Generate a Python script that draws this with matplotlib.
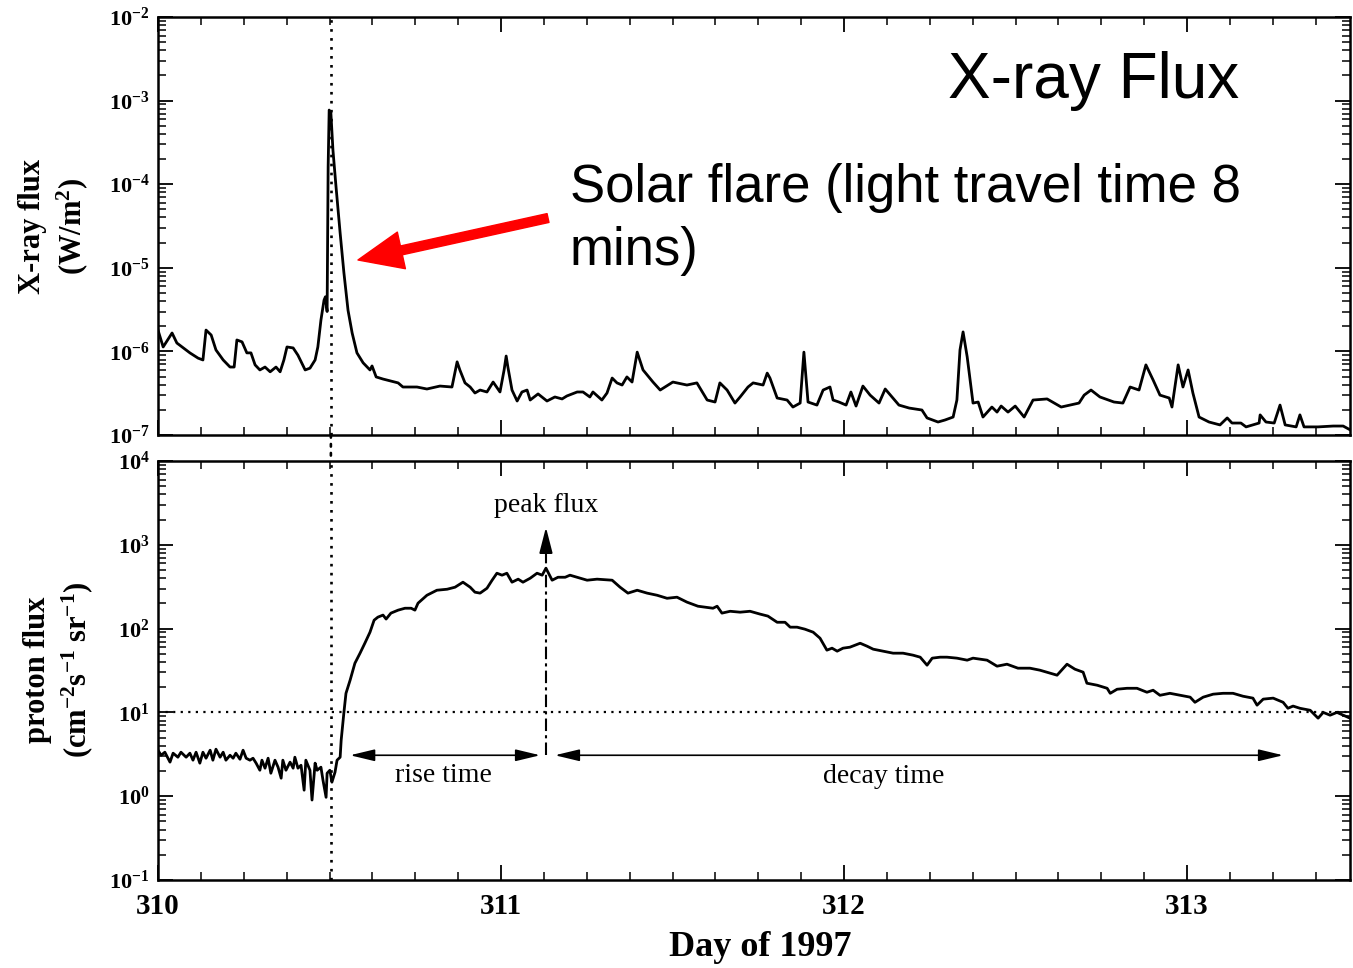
import numpy as np
import matplotlib
matplotlib.use("Agg")
import matplotlib.pyplot as plt
from matplotlib.ticker import LogLocator, MultipleLocator, NullFormatter, FuncFormatter
from matplotlib.patches import ConnectionPatch

# GOES X-ray flux (W/m^2), day of 1997
xray_day = [
    310.000, 310.015, 310.041, 310.055, 310.093, 310.117, 310.131, 310.140, 310.155, 310.169,
    310.190, 310.210, 310.222, 310.230, 310.245, 310.259, 310.271, 310.283, 310.297, 310.312,
    310.327, 310.344, 310.356, 310.367, 310.376, 310.394, 310.408, 310.429, 310.443, 310.458,
    310.466, 310.475, 310.484, 310.488, 310.493, 310.496, 310.499, 310.504, 310.510, 310.519,
    310.531, 310.542, 310.554, 310.566, 310.580, 310.598, 310.618, 310.624, 310.636, 310.656,
    310.700, 310.714, 310.755, 310.784, 310.822, 310.857, 310.872, 310.880, 310.895, 310.910,
    310.924, 310.939, 310.959, 310.977, 310.997, 311.009, 311.015, 311.020, 311.032, 311.047,
    311.061, 311.076, 311.085, 311.108, 311.134, 311.157, 311.178, 311.192, 311.222, 311.239,
    311.259, 311.268, 311.294, 311.309, 311.324, 311.338, 311.353, 311.367, 311.382, 311.397,
    311.414, 311.443, 311.464, 311.501, 311.542, 311.571, 311.601, 311.624, 311.638, 311.659,
    311.682, 311.697, 311.720, 311.735, 311.764, 311.776, 311.784, 311.805, 311.834, 311.851,
    311.872, 311.883, 311.895, 311.921, 311.939, 311.959, 311.968, 311.985, 312.006, 312.020,
    312.035, 312.055, 312.076, 312.102, 312.120, 312.140, 312.160, 312.190, 312.227, 312.242,
    312.274, 312.294, 312.318, 312.329, 312.338, 312.347, 312.359, 312.376, 312.391, 312.405,
    312.431, 312.446, 312.458, 312.478, 312.499, 312.525, 312.551, 312.592, 312.633, 312.685,
    312.700, 312.720, 312.746, 312.787, 312.813, 312.834, 312.860, 312.880, 312.901, 312.921,
    312.948, 312.956, 312.974, 312.988, 313.003, 313.017, 313.035, 313.064, 313.096, 313.117,
    313.131, 313.157, 313.172, 313.210, 313.213, 313.230, 313.254, 313.271, 313.286, 313.318,
    313.329, 313.341, 313.382, 313.426, 313.455, 313.481]
xray_flux = [
    1.8e-6, 1.13e-6, 1.66e-6, 1.26e-6, 9.6e-7, 8.3e-7, 7.9e-7, 1.8e-6, 1.57e-6, 1.04e-6,
    7.9e-7, 6.5e-7, 6.5e-7, 1.37e-6, 1.30e-6, 9.6e-7, 9.6e-7, 6.9e-7, 6.0e-7, 6.5e-7,
    5.7e-7, 6.5e-7, 5.7e-7, 7.9e-7, 1.13e-6, 1.1e-6, 9.0e-7, 6.0e-7, 6.3e-7, 7.9e-7,
    1.13e-6, 2.37e-6, 4.1e-6, 4.5e-6, 3.0e-6, 1.6e-4, 7.7e-4, 7.1e-4, 2.56e-4, 9.3e-5,
    2.6e-5, 8.7e-6, 3.1e-6, 1.66e-6, 9.6e-7, 7.3e-7, 6.0e-7, 6.7e-7, 4.95e-7, 4.67e-7,
    4.2e-7, 3.75e-7, 3.75e-7, 3.55e-7, 3.85e-7, 3.75e-7, 7.5e-7, 6.0e-7, 4.2e-7, 3.75e-7,
    3.18e-7, 3.45e-7, 3.27e-7, 4.3e-7, 3.27e-7, 6.0e-7, 8.8e-7, 6.5e-7, 3.45e-7, 2.55e-7,
    3.27e-7, 3.45e-7, 2.62e-7, 3.1e-7, 2.55e-7, 2.85e-7, 2.7e-7, 2.93e-7, 3.27e-7, 3.27e-7,
    2.85e-7, 3.27e-7, 2.62e-7, 3.18e-7, 4.8e-7, 4.2e-7, 3.96e-7, 4.95e-7, 4.3e-7, 9.8e-7,
    6.0e-7, 4.3e-7, 3.45e-7, 4.3e-7, 3.96e-7, 4.2e-7, 2.62e-7, 2.48e-7, 4.2e-7, 3.45e-7,
    2.41e-7, 2.85e-7, 3.75e-7, 4.2e-7, 3.96e-7, 5.5e-7, 4.8e-7, 2.77e-7, 2.62e-7, 2.16e-7,
    2.41e-7, 9.8e-7, 2.48e-7, 2.28e-7, 3.45e-7, 3.75e-7, 2.62e-7, 2.48e-7, 2.28e-7, 3.27e-7,
    2.22e-7, 3.85e-7, 3.0e-7, 2.41e-7, 3.55e-7, 2.85e-7, 2.28e-7, 2.1e-7, 1.99e-7, 1.6e-7,
    1.43e-7, 1.51e-7, 1.64e-7, 2.62e-7, 1.04e-6, 1.71e-6, 8.6e-7, 2.41e-7, 2.48e-7, 1.64e-7,
    2.16e-7, 1.88e-7, 2.22e-7, 1.88e-7, 2.22e-7, 1.64e-7, 2.62e-7, 2.7e-7, 2.16e-7, 2.41e-7,
    3.0e-7, 3.45e-7, 2.85e-7, 2.48e-7, 2.41e-7, 3.75e-7, 3.45e-7, 6.9e-7, 4.55e-7, 3.0e-7,
    2.77e-7, 2.16e-7, 6.9e-7, 3.75e-7, 6.0e-7, 3.18e-7, 1.64e-7, 1.43e-7, 1.32e-7, 1.6e-7,
    1.39e-7, 1.39e-7, 1.25e-7, 1.39e-7, 1.74e-7, 1.43e-7, 1.39e-7, 2.28e-7, 1.32e-7, 1.25e-7,
    1.74e-7, 1.25e-7, 1.25e-7, 1.28e-7, 1.28e-7, 1.12e-7]

# proton flux (cm^-2 s^-1 sr^-1)
proton_day = [
    310.000, 310.009, 310.020, 310.035, 310.044, 310.058, 310.067, 310.082, 310.093, 310.102,
    310.111, 310.122, 310.131, 310.140, 310.152, 310.160, 310.169, 310.181, 310.190, 310.198,
    310.210, 310.219, 310.227, 310.239, 310.248, 310.257, 310.268, 310.277, 310.286, 310.297,
    310.303, 310.312, 310.321, 310.329, 310.341, 310.350, 310.359, 310.364, 310.373, 310.385,
    310.394, 310.399, 310.408, 310.417, 310.426, 310.431, 310.443, 310.449, 310.458, 310.464,
    310.475, 310.481, 310.490, 310.493, 310.501, 310.507, 310.516, 310.522, 310.531, 310.534,
    310.542, 310.548, 310.560, 310.574, 310.589, 310.603, 310.618, 310.630, 310.641, 310.656,
    310.665, 310.679, 310.700, 310.720, 310.738, 310.749, 310.758, 310.784, 310.813, 310.843,
    310.866, 310.889, 310.910, 310.924, 310.939, 310.959, 310.974, 310.988, 311.003, 311.017,
    311.032, 311.050, 311.064, 311.085, 311.105, 311.120, 311.131, 311.149, 311.166, 311.187,
    311.201, 311.222, 311.251, 311.280, 311.324, 311.347, 311.370, 311.397, 311.426, 311.455,
    311.484, 311.513, 311.542, 311.574, 311.618, 311.630, 311.644, 311.668, 311.697, 311.726,
    311.755, 311.778, 311.805, 311.828, 311.843, 311.863, 311.886, 311.910, 311.930, 311.950,
    311.965, 311.980, 311.997, 312.017, 312.047, 312.067, 312.085, 312.114, 312.143, 312.172,
    312.201, 312.222, 312.242, 312.257, 312.280, 312.300, 312.329, 312.359, 312.376, 312.417,
    312.446, 312.475, 312.507, 312.542, 312.571, 312.601, 312.621, 312.650, 312.673, 312.697,
    312.708, 312.738, 312.767, 312.776, 312.796, 312.825, 312.854, 312.883, 312.901, 312.921,
    312.950, 312.980, 313.009, 313.023, 313.047, 313.076, 313.105, 313.134, 313.163, 313.192,
    313.204, 313.222, 313.251, 313.280, 313.294, 313.309, 313.329, 313.359, 313.382, 313.397,
    313.417, 313.437, 313.455, 313.475]
proton_flux = [
    3.54, 3.08, 3.35, 2.55, 3.26, 2.92, 3.35, 2.92, 3.26, 2.69,
    3.35, 2.48, 3.35, 2.84, 3.54, 2.69, 3.64, 2.92, 3.35, 2.69,
    3.08, 2.84, 3.26, 2.76, 3.54, 2.84, 2.69, 2.84, 2.48, 2.04,
    2.69, 2.16, 2.84, 1.88, 2.69, 2.22, 1.64, 2.69, 2.04, 2.55,
    2.16, 2.92, 2.16, 2.34, 1.18, 2.69, 2.04, 0.90, 2.48, 2.04,
    2.22, 1.55, 0.97, 1.88, 2.04, 1.47, 1.93, 2.69, 2.92, 4.66,
    10.0, 16.9, 24.2, 38.6, 50.9, 66.9, 90.6, 126, 137, 145,
    130, 153, 166, 175, 175, 166, 201, 250, 287, 295,
    312, 358, 312, 272, 265, 303, 378, 458, 434, 458,
    358, 389, 358, 399, 458, 434, 526, 378, 410, 410,
    434, 410, 378, 389, 378, 312, 265, 287, 265, 250,
    230, 237, 207, 185, 175, 185, 153, 161, 157, 161,
    149, 141, 119, 119, 104, 104, 98.4, 90.6, 76.8, 55.3,
    58.4, 53.8, 58.4, 60.0, 66.9, 61.7, 56.8, 53.8, 50.9, 50.9,
    48.2, 45.6, 36.6, 44.4, 45.6, 45.6, 44.4, 42.0, 44.4, 42.0,
    35.6, 37.6, 33.7, 33.7, 31.9, 29.4, 27.8, 37.6, 32.8, 30.2,
    22.3, 21.1, 19.4, 16.9, 18.9, 19.4, 19.4, 17.4, 18.4, 16.0,
    16.9, 16.0, 15.2, 13.2, 15.2, 16.5, 16.9, 16.9, 15.6, 14.8,
    12.2, 14.4, 14.8, 13.2, 11.2, 11.9, 11.2, 10.6, 8.53, 10.0,
    9.26, 10.0, 9.26, 8.53]

day_ticks = [310, 311, 312, 313]
flare_day = 310.504
peak_day = 311.131
threshold = 10

plt.rcParams['font.family'] = 'serif'
plt.rcParams['font.serif'] = ['Liberation Serif', 'DejaVu Serif']
plt.rcParams['mathtext.fontset'] = 'custom'
plt.rcParams['mathtext.rm'] = 'Liberation Serif'
plt.rcParams['mathtext.bf'] = 'Liberation Serif:bold'
plt.rcParams['mathtext.it'] = 'Liberation Serif:italic'

W, H = 1353, 968
fig = plt.figure(figsize=(W / 100, H / 100), dpi=100)


def box(x0, y0, x1, y1):
    # pixel box (top-left origin) -> figure fraction rect
    return [x0 / W, 1 - y1 / H, (x1 - x0) / W, (y1 - y0) / H]


ax1 = fig.add_axes(box(158, 17, 1350, 435))
ax2 = fig.add_axes(box(158, 461, 1350, 880))

pow_fmt = FuncFormatter(lambda v, pos: r'$\mathbf{10^{%d}}$' % int(round(np.log10(v))))

for ax in (ax1, ax2):
    ax.set_yscale('log')
    ax.set_xlim(310, 313.475)
    ax.xaxis.set_major_locator(MultipleLocator(1))
    ax.xaxis.set_minor_locator(MultipleLocator(0.125))
    ax.yaxis.set_major_locator(LogLocator(base=10, numticks=12))
    ax.yaxis.set_minor_locator(LogLocator(base=10, subs=np.arange(2, 10), numticks=12))
    ax.yaxis.set_minor_formatter(NullFormatter())
    ax.yaxis.set_major_formatter(pow_fmt)
    ax.tick_params(which='both', direction='in', top=True, right=True)
    ax.tick_params(which='major', length=11, width=1.3, labelsize=16, pad=6)
    ax.tick_params(which='minor', length=6, width=1.1)
    for s in ax.spines.values():
        s.set_linewidth(1.8)

ax1.set_ylim(1e-7, 1e-2)
ax2.set_ylim(1e-1, 1e4)
ax1.set_xticklabels([])
ax2.set_xticks(day_ticks)
ax2.set_xticklabels([str(d) for d in day_ticks], fontsize=21, fontweight='bold')
ax2.tick_params(axis='x', which='major', pad=9)

# curves
ax1.plot(xray_day, xray_flux, color='black', lw=2.0, solid_joinstyle='round')
ax2.plot(proton_day, proton_flux, color='black', lw=2.0, solid_joinstyle='round')

dots = (0, (1, 2.4))
ax1.axvline(flare_day, color='black', lw=1.9, linestyle=dots)
ax2.axvline(flare_day, color='black', lw=1.9, linestyle=dots)
gap = ConnectionPatch(xyA=(flare_day, 1e-7), coordsA=ax1.transData,
                      xyB=(flare_day, 1e4), coordsB=ax2.transData,
                      color='black', lw=1.9, linestyle=dots)
fig.add_artist(gap)
ax2.axhline(threshold, color='black', lw=1.6, linestyle=dots)

# peak flux marker
ax2.plot([peak_day, peak_day], [3.08, 1000], color='black', lw=1.5,
         linestyle=(0, (6, 2, 1.5, 2)))
ax2.annotate('', xy=(peak_day, 1620), xytext=(peak_day, 900),
             arrowprops=dict(arrowstyle='-|>,head_length=1.05,head_width=0.27',
                             color='black', lw=1.4, mutation_scale=15,
                             shrinkA=0, shrinkB=0))
ax2.text(peak_day, 2970, 'peak flux', ha='center', va='center', fontsize=20)

# rise / decay arrows
arrow_kw = dict(arrowstyle='<|-|>,head_length=1.0,head_width=0.24', color='black',
                lw=1.2, mutation_scale=15, shrinkA=0, shrinkB=0)
ax2.annotate('', xy=(310.560, 3.08), xytext=(311.114, 3.08), arrowprops=arrow_kw)
ax2.annotate('', xy=(311.157, 3.08), xytext=(313.280, 3.08), arrowprops=arrow_kw)
ax2.text(310.831, 1.78, 'rise time', ha='center', va='center', fontsize=20)
ax2.text(312.117, 1.74, 'decay time', ha='center', va='center', fontsize=20)

# annotations on the X-ray panel
ax1.annotate('', xy=(310.583, 1.24e-5), xytext=(311.137, 3.94e-5),
             arrowprops=dict(facecolor='red', edgecolor='red', width=6.5,
                             headwidth=27, headlength=32, shrink=0))
fig.text(948 / W, 1 - 98 / H, 'X-ray Flux', family='Liberation Sans',
         fontsize=46, ha='left', va='baseline')
fig.text(570 / W, 1 - 163 / H, 'Solar flare (light travel time 8\nmins)',
         family='Liberation Sans', fontsize=38, ha='left', va='top',
         linespacing=1.33)

# axis labels
fig.text(54 / W, 1 - 226 / H, 'X-ray flux\n(W/m$^\\mathbf{2}$)', rotation=90,
         ha='center', va='center', fontsize=22, fontweight='bold',
         multialignment='center', linespacing=1.3)
fig.text(59 / W, 1 - 670 / H,
         'proton flux\n(cm$^\\mathbf{-2}$s$^\\mathbf{-1}$ sr$^\\mathbf{-1}$)',
         rotation=90, ha='center', va='center', fontsize=22, fontweight='bold',
         multialignment='center', linespacing=1.3)
fig.text(760 / W, 1 - 948 / H, 'Day of 1997', ha='center', va='center',
         fontsize=26, fontweight='bold')

fig.savefig('out.png', dpi=100)
